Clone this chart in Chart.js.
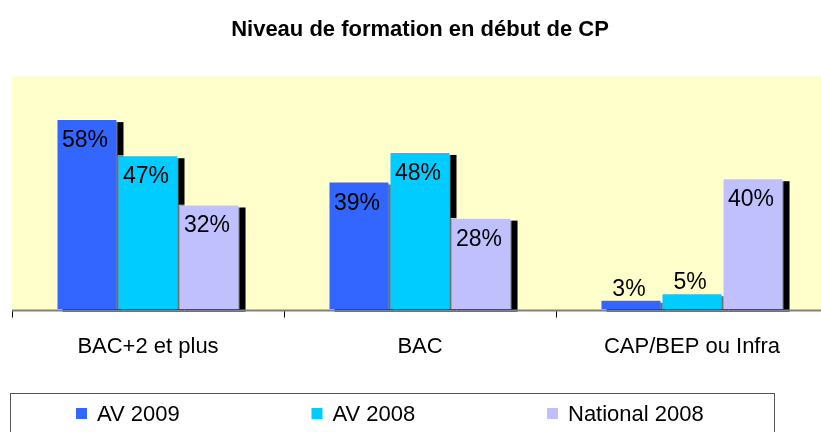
<!DOCTYPE html>
<html>
<head>
<meta charset="utf-8">
<script src="https://cdn.jsdelivr.net/npm/chart.js@4.4.0/dist/chart.umd.min.js"></script>
<style>
    html, body { margin: 0; padding: 0; background: #fff; overflow: hidden; }
    #wrap { width: 836px; height: 432px; }
</style>
</head>
<body>
<div id="wrap"><canvas id="formationChart" width="836" height="432"></canvas></div>
<script>
const categories = ['BAC+2 et plus', 'BAC', 'CAP/BEP ou Infra'];
const seriesNames = ['AV 2009', 'AV 2008', 'National 2008'];
const av2009 = [58, 39, 3];
const av2008 = [47, 48, 5];
const national2008 = [32, 28, 40];
const seriesColors = ['#3366FF', '#00CCFF', '#C0C0FF'];

const FONT = '"Liberation Sans", Arial, sans-serif';

// yellow plot area
const plotBackground = {
    id: 'plotBackground',
    beforeDraw(chart) {
        const { ctx, chartArea } = chart;
        ctx.save();
        ctx.fillStyle = '#FFFFCC';
        ctx.fillRect(chartArea.left, chartArea.top, chartArea.right - chartArea.left, chartArea.bottom - chartArea.top);
        ctx.restore();
    }
};

// black drop shadows behind the bars
const barShadows = {
    id: 'barShadows',
    beforeDatasetsDraw(chart) {
        const ctx = chart.ctx;
        ctx.save();
        ctx.fillStyle = '#000';
        chart.data.datasets.forEach((ds, i) => {
            chart.getDatasetMeta(i).data.forEach(bar => {
                const left = bar.x - bar.width / 2 + 6;
                ctx.fillRect(left, bar.y + 3, bar.width, bar.base - bar.y - 1);
            });
        });
        ctx.restore();
    }
};

// value labels + grey axis line
const valueLabels = {
    id: 'valueLabels',
    afterDatasetsDraw(chart) {
        const { ctx, chartArea } = chart;
        ctx.save();
        ctx.strokeStyle = '#808080';
        ctx.lineWidth = 2;
        ctx.beginPath();
        ctx.moveTo(chartArea.left, chartArea.bottom + 1);
        ctx.lineTo(chartArea.right, chartArea.bottom + 1);
        ctx.stroke();

        ctx.fillStyle = '#000';
        ctx.font = '23px ' + FONT;
        ctx.textAlign = 'center';
        ctx.textBaseline = 'alphabetic';
        chart.data.datasets.forEach((ds, i) => {
            chart.getDatasetMeta(i).data.forEach((bar, j) => {
                const txt = ds.data[j] + '%';
                const h = bar.base - bar.y;
                if (h > 40) {
                    ctx.fillText(txt, bar.x - 2, bar.y + 28);
                } else {
                    ctx.fillText(txt, bar.x - 2, bar.y - 4);
                }
            });
        });
        ctx.restore();
    }
};

// boxed legend at the bottom
const boxLegend = {
    id: 'boxLegend',
    afterDraw(chart) {
        const ctx = chart.ctx;
        ctx.save();
        ctx.strokeStyle = '#555';
        ctx.lineWidth = 1;
        ctx.strokeRect(10.5, 393.5, 764, 60);
        ctx.font = '22px ' + FONT;
        ctx.textAlign = 'left';
        ctx.textBaseline = 'alphabetic';
        chart.data.datasets.forEach((ds, i) => {
            const x = 76 + i * 235.5;
            ctx.fillStyle = ds.backgroundColor;
            ctx.fillRect(x, 408, 11, 11);
            ctx.fillStyle = '#000';
            ctx.fillText(ds.label, x + 21, 421);
        });
        ctx.restore();
    }
};

const ctx = document.getElementById('formationChart');

new Chart(ctx, {
    type: 'bar',
    data: {
        labels: categories,
        datasets: [
            { label: seriesNames[0], data: av2009, backgroundColor: seriesColors[0] },
            { label: seriesNames[1], data: av2008, backgroundColor: seriesColors[1] },
            { label: seriesNames[2], data: national2008, backgroundColor: seriesColors[2] }
        ]
    },
    options: {
        responsive: false,
        animation: false,
        datasets: {
            bar: {
                categoryPercentage: 0.673,
                barPercentage: 1,
                borderColor: '#fff',
                borderWidth: 1
            }
        },
        layout: {
            padding: { left: 12, right: 8, top: 0, bottom: 56 }
        },
        plugins: {
            legend: { display: false },
            tooltip: { enabled: false },
            title: {
                display: true,
                text: 'Niveau de formation en début de CP',
                color: '#000',
                font: { family: FONT, size: 22, weight: 'bold' },
                padding: { top: 17, bottom: 33 }
            }
        },
        scales: {
            x: {
                grid: {
                    drawOnChartArea: false,
                    drawTicks: true,
                    tickLength: 8,
                    color: '#000'
                },
                border: { display: false },
                ticks: {
                    color: '#000',
                    padding: 16,
                    font: { family: FONT, size: 22 }
                }
            },
            y: {
                display: false,
                min: 0,
                max: 71
            }
        }
    },
    plugins: [plotBackground, barShadows, valueLabels, boxLegend]
});
</script>
</body>
</html>
